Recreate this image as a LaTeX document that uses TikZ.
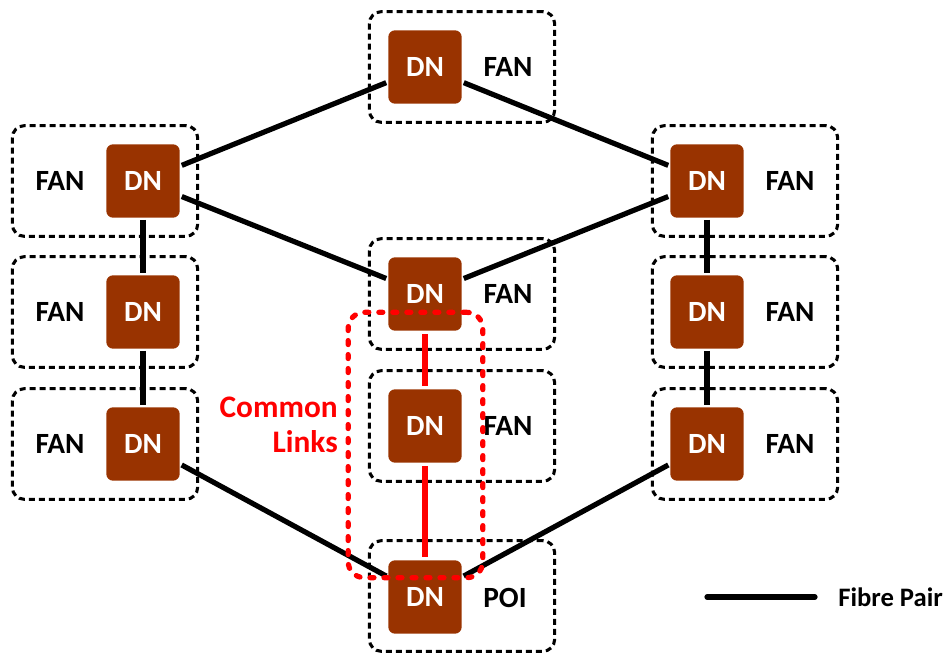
\documentclass[tikz,border=0pt]{standalone}
\usepackage{fontspec}
\setmainfont{Carlito}
\definecolor{dnbrown}{HTML}{993300}
\definecolor{linkred}{HTML}{FF0000}
\begin{document}
\begin{tikzpicture}[x=0.75pt, y=-0.75pt, font=\fontsize{22}{26}\selectfont\bfseries,
	fibre/.style={draw, line width=3.9pt, shorten <=1.5pt, shorten >=1.5pt},
	common/.style={draw=linkred, line width=3.9pt, shorten <=2.5pt, shorten >=2.5pt}]
	\useasboundingbox (0,0) rectangle (943,655);

	% dashed site boxes
	\begin{scope}[every node/.style={draw, rounded corners=9pt, line width=2.3pt, dash pattern=on 4.5pt off 3pt, minimum width=139pt, minimum height=83pt}]
	\node (box-top) at (462, 67)  {};

	\node (box-l1)  at (105, 181) {};
	\node (box-l2)  at (105, 312) {};
	\node (box-l3)  at (105, 444) {};

	\node (box-c2)  at (462, 294) {};
	\node (box-c3)  at (462, 426) {};
	\node (box-poi) at (462, 596) {};

	\node (box-r1)  at (745, 181) {};
	\node (box-r2)  at (745, 312) {};
	\node (box-r3)  at (745, 444) {};
	\end{scope}

	% site labels
	\node (fan-top) at (508, 67)  {FAN};
	\node (fan-l1)  at (60, 181)  {FAN};
	\node (fan-l2)  at (60, 312)  {FAN};
	\node (fan-l3)  at (60, 444)  {FAN};
	\node (fan-c2)  at (508, 294) {FAN};
	\node (fan-c3)  at (508, 426) {FAN};
	\node (poi)     at (505, 598) {POI};
	\node (fan-r1)  at (790, 181) {FAN};
	\node (fan-r2)  at (790, 312) {FAN};
	\node (fan-r3)  at (790, 444) {FAN};

	% DN nodes
	\begin{scope}[every node/.style={fill=dnbrown, text=white, rounded corners=5pt, minimum size=55pt, inner sep=0pt}]
	\node (top) at (425, 67)  {DN};

	\node (l1)  at (143, 181) {DN};
	\node (l2)  at (143, 312) {DN};
	\node (l3)  at (143, 444) {DN};

	\node (c2)  at (425, 294) {DN};
	\node (c3)  at (425, 426) {DN};
	\node (c4)  at (425, 597) {DN};

	\node (r1)  at (707, 181) {DN};
	\node (r2)  at (707, 312) {DN};
	\node (r3)  at (707, 444) {DN};
	\end{scope}

	\path [fibre] (top) edge (l1);
	\path [fibre] (top) edge (r1);

	\path [fibre] (l1) edge (c2);
	\path [fibre] (r1) edge (c2);

	\path [fibre] (l1) edge (l2);
	\path [fibre] (l2) edge (l3);
	\path [fibre] (r1) edge (r2);
	\path [fibre] (r2) edge (r3);

	\path [fibre] (l3) edge (c4);
	\path [fibre] (r3) edge (c4);

	% common links
	\path [common] (c2) edge (c3);
	\path [common] (c3) edge (c4);

	\node (commonbox) at (415.5, 445) [draw=linkred, line width=3.9pt, dash pattern=on 3pt off 7.5pt, line cap=round, rounded corners=12pt, minimum width=101pt, minimum height=199pt] {};
	\node (commonlabel) at (338, 425) [anchor=east, align=right, text=linkred, inner sep=0pt, font=\fontsize{23.5}{26}\selectfont\bfseries] {Common\\Links};

	% legend
	\coordinate (leg-a) at (707, 597);
	\coordinate (leg-b) at (815, 597);
	\draw [line width=3.9pt, line cap=round] (leg-a) -- (leg-b);
	\node (legend) at (838, 597) [anchor=west, inner sep=0pt, font=\fontsize{20}{22}\selectfont\bfseries] {Fibre Pair};

\end{tikzpicture}
\end{document}
